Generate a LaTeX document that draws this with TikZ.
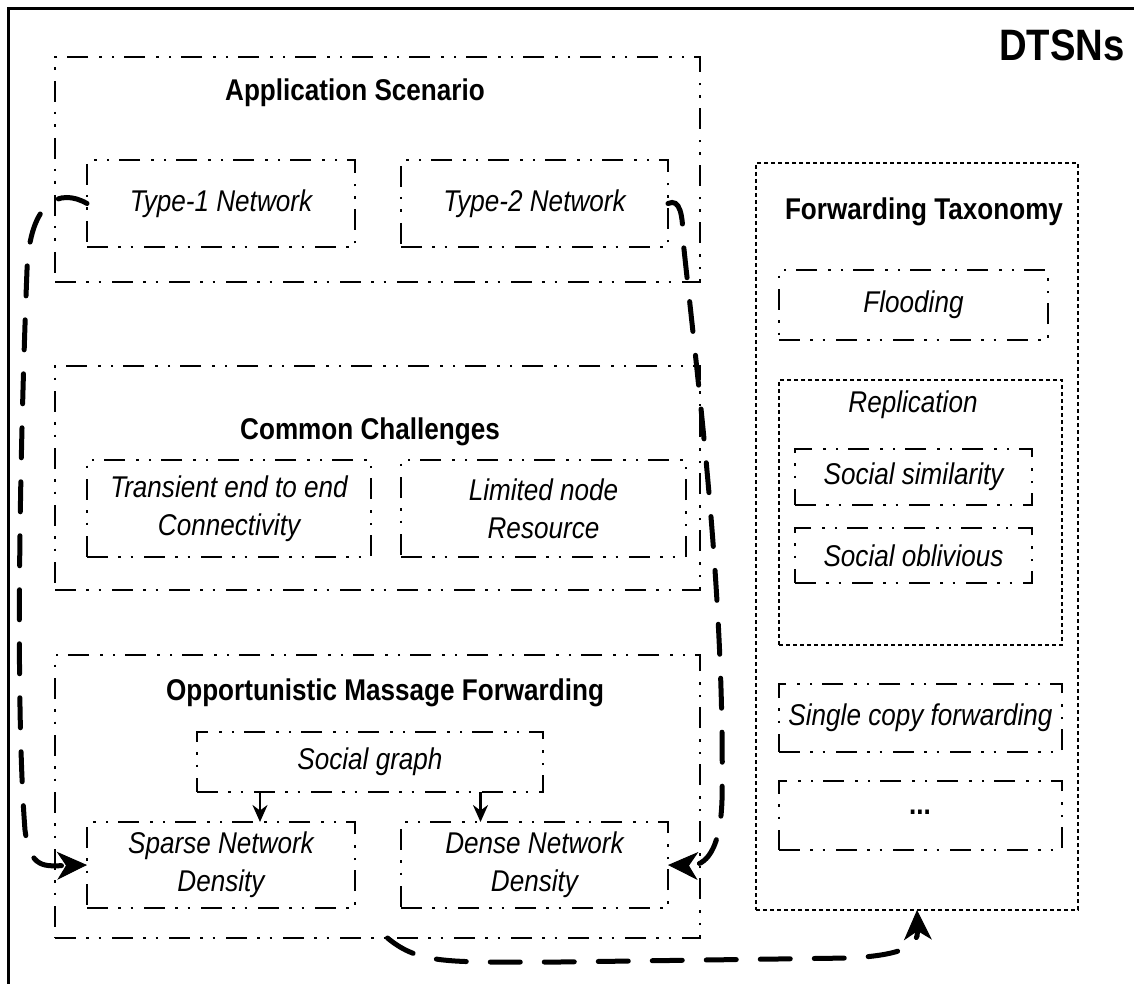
\documentclass[tikz,border=0pt]{standalone}
\usepackage{fontspec}
\setmainfont{Liberation Sans}[FakeStretch=0.87]
\usetikzlibrary{arrows.meta}
\begin{document}
\begin{tikzpicture}[x=1pt,y=-1pt,
 ddd/.style={draw, line width=2.8pt, dash pattern=on 21pt off 10pt on 2.5pt off 10pt on 2.5pt off 11pt, inner sep=0pt, outer sep=0pt},
 dotbox/.style={draw, line width=2.6pt, dash pattern=on 4pt off 3pt, inner sep=0pt, outer sep=0pt},
 ttl/.style={font=\fontsize{30}{36}\selectfont\bfseries},
 itx/.style={font=\fontsize{30}{38}\selectfont\itshape, align=center},
 conn/.style={line width=5pt, dash pattern=on 30pt off 24pt, line cap=round, -{Stealth[length=30pt,width=28pt,inset=9pt,fill=black,line width=1pt]}},
 sarr/.style={line width=2.6pt, -{Stealth[length=17pt,width=15pt,fill=black]}}]
\useasboundingbox (0,0) rectangle (1134,984);
\clip (0,0) rectangle (1134,984);
\draw[line width=3pt] (8.5,8.5) rectangle (1150,1000);
\node[font=\fontsize{44}{50}\selectfont\bfseries] (dtsn) at (1062,45) {DTSNs};
% Application scenario
\node[ddd, minimum width=645pt, minimum height=225pt] (app) at (377.5,169.5) {};
\node[ttl] (appt) at (355,93) {Application Scenario};
\node[ddd, itx, minimum width=268pt, minimum height=87pt] (t1) at (221,203.5) {Type-1 Network};
\node[ddd, itx, minimum width=267pt, minimum height=87pt] (t2) at (534.5,203.5) {Type-2 Network};
% Common challenges
\node[ddd, minimum width=645pt, minimum height=224pt] (cc) at (377.5,478) {};
\node[ttl] (cct) at (370,432) {Common Challenges};
\node[ddd, itx, minimum width=284pt, minimum height=97pt] (tr) at (229,508.5) {Transient end to end\\Connectivity};
\node[ddd, itx, minimum width=285pt, minimum height=97pt] (lim) at (543.5,508.5) {Limited node\\Resource};
% Opportunistic
\node[ddd, minimum width=645pt, minimum height=283pt] (omf) at (377.5,796.5) {};
\node[ttl] (omft) at (385,693) {Opportunistic Massage Forwarding};
\node[ddd, itx, minimum width=346pt, minimum height=60pt] (sg) at (370,762) {Social graph};
\node[ddd, itx, minimum width=268pt, minimum height=86pt] (sp) at (221,865) {Sparse Network\\Density};
\node[ddd, itx, minimum width=267pt, minimum height=86pt] (de) at (534.5,865) {Dense Network\\Density};
\draw[sarr] ([xshift=39pt]sp.north |- sg.south) -- ([xshift=39pt]sp.north);
\draw[sarr] ([xshift=-54pt]de.north |- sg.south) -- ([xshift=-54pt]de.north);
% Forwarding taxonomy
\node[dotbox, minimum width=322pt, minimum height=747pt] (ft) at (917,536.5) {};
\node[ttl] (ftt) at (924,212) {Forwarding Taxonomy};
\node[ddd, itx, minimum width=269pt, minimum height=70pt] (fl) at (913.5,305) {Flooding};
\node[dotbox, minimum width=283pt, minimum height=265pt] (rep) at (920.5,512.5) {};
\node[itx] (rept) at (913,405) {Replication};
\node[ddd, itx, minimum width=237pt, minimum height=56pt] (ss) at (913.5,477) {Social similarity};
\node[ddd, itx, minimum width=237pt, minimum height=55pt] (so) at (913.5,555.5) {Social oblivious};
\node[ddd, itx, minimum width=283pt, minimum height=68pt] (sc) at (920.5,718) {Single copy forwarding};
\node[ddd, minimum width=283pt, minimum height=69pt] (etc) at (920.5,815.5) {};
\node[font=\fontsize{30}{36}\selectfont\bfseries] (etct) at (920,812) {...};
% curved connectors
\draw[conn] (t1.west) .. controls (60,188) and (30,200) .. (27,270)
  .. controls (20,450) and (15,700) .. (25,830)
  .. controls (30,870) and (45,866) .. (sp.west);
\draw[conn] (t2.east) .. controls (680,198) and (683,215) .. (683,240)
  .. controls (700,400) and (725,600) .. (722,800)
  .. controls (720,860) and (700,866) .. (de.east);
\draw[conn] ([xshift=10pt]omf.south) .. controls (420,965) and (450,962) .. (560,962)
  -- (850,958) .. controls (905,955) and (918,945) .. (ft.south);
\end{tikzpicture}
\end{document}
